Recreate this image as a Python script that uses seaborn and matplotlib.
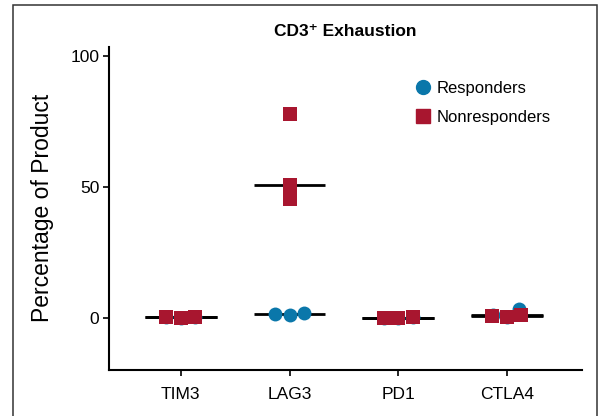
import numpy as np
import pandas as pd
import matplotlib
matplotlib.use("Agg")
import matplotlib.pyplot as plt
from matplotlib.lines import Line2D
from matplotlib.patches import Rectangle
import seaborn as sns

categories = ["TIM3", "LAG3", "PD1", "CTLA4"]
responders = {
    "TIM3": [0.2, 0.1, 0.0],
    "LAG3": [1.5, 1.0, 1.6],
    "PD1": [0.0, 0.1, 0.0],
    "CTLA4": [0.3, 1.0, 3.2],
}
nonresponders = {
    "TIM3": [0.0, 0.1, 0.2],
    "LAG3": [77.7, 50.8, 45.4],
    "PD1": [0.0, 0.0, 0.1],
    "CTLA4": [0.4, 0.7, 1.0],
}
yticks = [0, 50, 100]
title = "CD3\u207a Exhaustion"
ylabel = "Percentage of Product"
group_names = ["Responders", "Nonresponders"]

BLUE = "#0a77aa"
RED = "#a8162f"

rows = []
for g, d in zip(group_names, [responders, nonresponders]):
    for c in categories:
        for v in d[c]:
            rows.append({"marker": c, "value": v, "group": g})
df = pd.DataFrame(rows)

sns.set_theme(style="white")
regular = ["Liberation Sans", "DejaVu Sans"]
plt.rcParams["font.family"] = regular
plt.rcParams["text.color"] = "black"
plt.rcParams["axes.labelcolor"] = "black"
plt.rcParams["xtick.color"] = "black"
plt.rcParams["ytick.color"] = "black"

fig = plt.figure(figsize=(6.05, 4.16), dpi=100)
ax = fig.add_axes([0.180, 0.1106, 0.782, 0.777])

# median lines
for g in group_names:
    sns.boxplot(data=df[df.group == g], x="marker", y="value", order=categories,
                showbox=False, showcaps=False, showfliers=False,
                whiskerprops={"visible": False},
                medianprops={"color": "black", "linewidth": 2.0, "zorder": 1},
                width=0.66, ax=ax)

MS = 10
sns.swarmplot(data=df[df.group == "Responders"], x="marker", y="value",
              order=categories, color=BLUE, marker="o", size=MS,
              linewidth=0, ax=ax, zorder=3)
sns.swarmplot(data=df[df.group == "Nonresponders"], x="marker", y="value",
              order=categories, color=RED, marker="s", size=MS,
              linewidth=0, ax=ax, zorder=4)

ax.set_xlim(-0.662, 3.69)
ax.set_ylim(-20, 103.5)
ax.set_yticks(yticks)
ax.set_xlabel("")
ax.set_ylabel(ylabel, fontsize=16.5, labelpad=12)
for s in ["top", "right"]:
    ax.spines[s].set_visible(False)
for s in ["left", "bottom"]:
    ax.spines[s].set_color("black")
    ax.spines[s].set_linewidth(1.5)
ax.tick_params(axis="both", which="both", direction="out", length=4, width=1.2,
               color="black", labelsize=12.5, pad=3, left=True, bottom=True)
ax.tick_params(axis="x", pad=8)

ax.set_title(title, fontsize=12.5, fontweight="bold", pad=8)

handles = [
    Line2D([], [], marker="o", color=BLUE, linestyle="none", markersize=MS),
    Line2D([], [], marker="s", color=RED, linestyle="none", markersize=MS * 0.95),
]
ax.legend(handles, group_names, loc="upper left", bbox_to_anchor=(0.605, 0.94),
          frameon=False, prop={"size": 12},
          handletextpad=0.1, labelspacing=0.85, handlelength=1.5)

fig.add_artist(Rectangle((13 / 605, -0.1), (597 - 13) / 605, 1.088,
                         transform=fig.transFigure, fill=False,
                         edgecolor="#333333", linewidth=1.1))

fig.savefig("out.png", dpi=100)
